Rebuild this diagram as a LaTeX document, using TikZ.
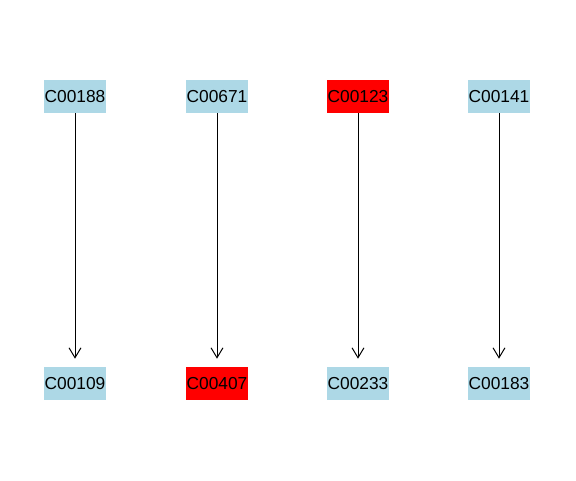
\documentclass[tikz,border=0pt]{standalone}
\usepackage{fontspec}
\setmainfont{Liberation Sans}
\usetikzlibrary{arrows.meta}
\definecolor{lblue}{HTML}{ADD8E6}
\begin{document}
\begin{tikzpicture}[x=0.75pt,y=-0.75pt,
  cbox/.style={minimum width=46.5pt,minimum height=24.75pt,inner sep=0pt,font=\fontsize{13}{15}\selectfont},
  blue/.style={cbox,fill=lblue},
  redbox/.style={cbox,fill=red},
  link/.style={draw=black,line width=0.75pt,-{Straight Barb[length=7.5pt,width=9pt,line width=0.75pt]},shorten >=6pt}]
\useasboundingbox (0,0) rectangle (576,480);
\node[blue] (a1) at (75,96.5) {C00188};
\node[blue] (a2) at (217,96.5) {C00671};
\node[redbox] (a3) at (358,96.5) {C00123};
\node[blue] (a4) at (499,96.5) {C00141};
\node[blue] (b1) at (75,383.5) {C00109};
\node[redbox] (b2) at (217,383.5) {C00407};
\node[blue] (b3) at (358,383.5) {C00233};
\node[blue] (b4) at (499,383.5) {C00183};
\draw[link] (a1) -- (b1);
\draw[link] (a2) -- (b2);
\draw[link] (a3) -- (b3);
\draw[link] (a4) -- (b4);
\end{tikzpicture}
\end{document}
